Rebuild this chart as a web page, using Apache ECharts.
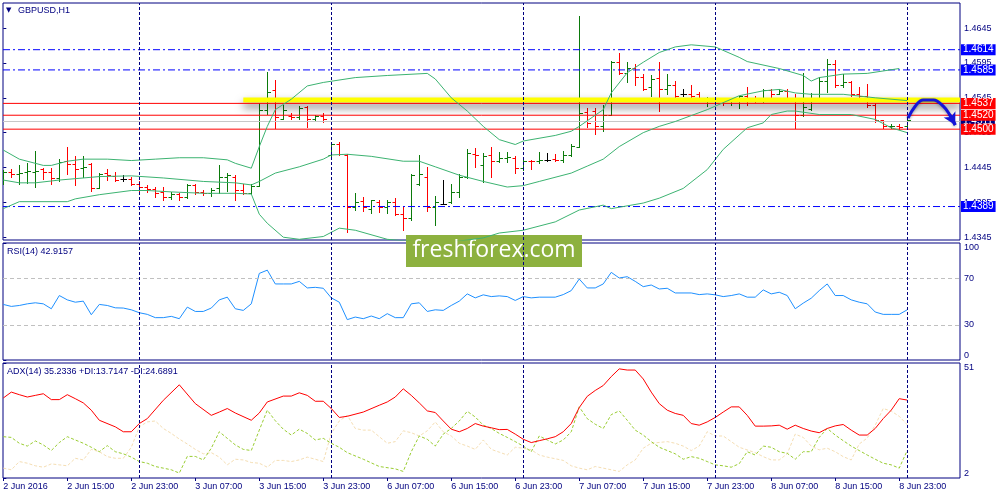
<!DOCTYPE html>
<html>
<head>
<meta charset="utf-8">
<title>GBPUSD H1</title>
<script src="https://cdn.jsdelivr.net/npm/echarts@6/dist/echarts.min.js"></script>
<style>
  html, body { margin: 0; padding: 0; background: #fff; }
  #chart { width: 1000px; height: 500px; }
</style>
</head>
<body>
<div id="chart"></div>
<script>
// ---- data (bar index 0 = 2 Jun 07:00, one bar per hour) ----
const opens = [1.4430,1.4439,1.4436,1.4438,1.4438,1.4443,1.4438,1.4430,1.4455,1.4450,1.4444,1.4450,1.4416,1.4437,1.4433,1.4429,1.4428,1.4422,1.4417,1.4414,
  1.4410,1.4403,1.4407,1.4402,1.4420,1.4410,1.4409,1.4415,1.4431,1.4432,1.4413,1.4409,1.4419,1.4528,1.4556,1.4515,1.4519,1.4518,1.4532,1.4515,
  1.4519,1.4463,1.4479,1.4463,1.4388,1.4397,1.4386,1.4396,1.4388,1.4396,1.4379,1.4373,1.4422,1.4432,1.4389,1.4393,1.4395,1.4410,1.4431,1.4465,
  1.4449,1.4463,1.4455,1.4459,1.4459,1.4444,1.4455,1.4454,1.4456,1.4457,1.4456,1.4463,1.4475,1.4524,1.4526,1.4504,1.4521,1.4597,1.4580,1.4588,
  1.4575,1.4560,1.4573,1.4557,1.4563,1.4550,1.4550,1.4551,1.4541,1.4544,1.4542,1.4540,1.4540,1.4548,1.4543,1.4543,1.4556,1.4551,1.4555,1.4545,
  1.4521,1.4529,1.4543,1.4569,1.4593,1.4564,1.4567,1.4551,1.4548,1.4534,1.4513,1.4504,1.4505,1.4505];
const highs = [1.4442,1.4443,1.4449,1.4451,1.4469,1.4445,1.4445,1.4457,1.4474,1.4461,1.4462,1.4451,1.4437,1.4443,1.4439,1.4434,1.4431,1.4425,1.4420,1.4417,
  1.4417,1.4410,1.4409,1.4422,1.4422,1.4413,1.4416,1.4448,1.4437,1.4434,1.4422,1.4422,1.4538,1.4582,1.4571,1.4534,1.4523,1.4533,1.4533,1.4521,
  1.4523,1.4480,1.4481,1.4465,1.4409,1.4402,1.4399,1.4399,1.4399,1.4401,1.4389,1.4436,1.4463,1.4446,1.4404,1.4427,1.4422,1.4436,1.4471,1.4473,
  1.4466,1.4474,1.4467,1.4467,1.4461,1.4456,1.4456,1.4467,1.4466,1.4465,1.4468,1.4479,1.4663,1.4531,1.4531,1.4535,1.4598,1.4609,1.4597,1.4593,
  1.4579,1.4577,1.4596,1.4579,1.4569,1.4557,1.4564,1.4553,1.4546,1.4545,1.4544,1.4545,1.4548,1.4560,1.4548,1.4557,1.4558,1.4558,1.4557,1.4550,
  1.4580,1.4552,1.4575,1.4600,1.4599,1.4579,1.4569,1.4561,1.4565,1.4537,1.4513,1.4508,1.4507,1.4514];
const lows = [1.4422,1.4432,1.4422,1.4423,1.4417,1.4428,1.4422,1.4425,1.4435,1.4420,1.4432,1.4412,1.4415,1.4427,1.4425,1.4425,1.4420,1.4412,1.4410,1.4403,
  1.4399,1.4400,1.4398,1.4401,1.4407,1.4406,1.4404,1.4409,1.4412,1.4399,1.4407,1.4407,1.4418,1.4522,1.4501,1.4515,1.4515,1.4515,1.4503,1.4513,
  1.4511,1.4461,1.4463,1.4353,1.4384,1.4383,1.4380,1.4381,1.4380,1.4377,1.4355,1.4369,1.4420,1.4383,1.4363,1.4392,1.4394,1.4403,1.4430,1.4446,
  1.4424,1.4432,1.4453,1.4453,1.4437,1.4442,1.4443,1.4452,1.4454,1.4455,1.4453,1.4461,1.4474,1.4503,1.4493,1.4497,1.4520,1.4579,1.4568,1.4564,
  1.4556,1.4547,1.4526,1.4551,1.4545,1.4547,1.4545,1.4541,1.4533,1.4538,1.4534,1.4535,1.4531,1.4535,1.4539,1.4539,1.4543,1.4550,1.4543,1.4502,
  1.4519,1.4527,1.4540,1.4553,1.4560,1.4560,1.4547,1.4541,1.4532,1.4511,1.4502,1.4502,1.4500,1.4504];
const closes = [1.4439,1.4436,1.4437,1.4440,1.4440,1.4439,1.4430,1.4453,1.4450,1.4443,1.4446,1.4415,1.4436,1.4434,1.4427,1.4429,1.4422,1.4417,1.4414,1.4408,
  1.4403,1.4407,1.4402,1.4420,1.4410,1.4409,1.4413,1.4431,1.4434,1.4413,1.4409,1.4419,1.4528,1.4554,1.4518,1.4528,1.4518,1.4531,1.4515,1.4519,
  1.4515,1.4479,1.4465,1.4388,1.4396,1.4389,1.4398,1.4389,1.4396,1.4379,1.4373,1.4434,1.4435,1.4388,1.4395,1.4393,1.4410,1.4432,1.4466,1.4463,
  1.4462,1.4455,1.4459,1.4460,1.4444,1.4455,1.4454,1.4456,1.4456,1.4456,1.4463,1.4476,1.4523,1.4509,1.4504,1.4521,1.4597,1.4580,1.4588,1.4575,
  1.4558,1.4572,1.4558,1.4563,1.4548,1.4550,1.4548,1.4543,1.4544,1.4542,1.4540,1.4543,1.4548,1.4543,1.4542,1.4556,1.4550,1.4555,1.4545,1.4521,
  1.4532,1.4544,1.4569,1.4594,1.4563,1.4567,1.4551,1.4548,1.4534,1.4513,1.4504,1.4505,1.4503,1.4513];

// Bollinger bands, [bar index, price] read at the visible vertices
const bbUpper = [[0,1.4470],[2,1.4457],[5,1.4448],[6,1.4448],[8,1.4454],[10,1.4457],[13,1.4457],[16,1.4455],[19,1.4457],[22,1.4459],[25,1.4459],[28,1.4456],[29,1.4451],[31,1.4444],[32,1.4475],[33,1.4504],[34,1.4528],[36,1.4543],[38,1.4562],[40,1.4567],[44,1.4574],[48,1.4577],[53,1.4580],[54,1.4572],[56,1.4545],[58,1.4526],[60,1.4504],[62,1.4485],[64,1.4478],[65,1.4483],[69,1.4491],[71,1.4497],[72,1.4504],[75,1.4528],[76,1.4552],[78,1.4581],[80,1.4596],[82,1.4610],[84,1.4618],[86,1.4621],[89,1.4618],[92,1.4603],[93,1.4597],[97,1.4587],[100,1.4577],[101,1.4569],[102,1.4574],[105,1.4579],[108,1.4580],[112,1.4587]];
const bbMiddle = [[0,1.4427],[2,1.4423],[4,1.4423],[7,1.4427],[12,1.4432],[16,1.4433],[20,1.4430],[25,1.4425],[29,1.4423],[31,1.4420],[32,1.4425],[34,1.4437],[37,1.4446],[40,1.4457],[41,1.4463],[43,1.4464],[46,1.4461],[50,1.4454],[52,1.4454],[54,1.4446],[57,1.4434],[60,1.4425],[63,1.4417],[65,1.4419],[67,1.4425],[71,1.4437],[73,1.4447],[75,1.4457],[77,1.4475],[80,1.4495],[82,1.4504],[84,1.4511],[88,1.4528],[90,1.4538],[92,1.4548],[95,1.4555],[97,1.4557],[99,1.4552],[101,1.4550],[105,1.4550],[109,1.4545],[113,1.4541]];
const bbLower = [[0,1.4386],[2,1.4396],[8,1.4396],[9,1.4400],[12,1.4406],[16,1.4412],[18,1.4412],[21,1.4410],[25,1.4408],[29,1.4408],[31,1.4407],[32,1.4378],[33,1.4365],[35,1.4345],[37,1.4342],[40,1.4346],[42,1.4358],[44,1.4355],[48,1.4342],[52,1.4338],[56,1.4338],[60,1.4344],[62,1.4351],[65,1.4355],[69,1.4367],[72,1.4384],[75,1.4391],[76,1.4386],[80,1.4394],[82,1.4401],[85,1.4415],[88,1.4442],[90,1.4471],[93,1.4502],[95,1.4509],[96,1.4521],[98,1.4526],[99,1.4526],[102,1.4521],[106,1.4521],[109,1.4514],[111,1.4502],[113,1.4495]];

const rsiValues = [[0,47.5],[1,45.8],[2,46.6],[3,48],[4,48.9],[5,48],[6,43.8],[7,55.1],[8,51.4],[9,49.4],[10,50.3],[11,38.7],[12,47.5],[13,46.6],[14,44.6],[15,44.4],[16,42.9],[17,40.4],[18,39],[19,36.2],[20,36.2],[21,37.3],[22,35.3],[23,45.2],[24,41.5],[25,41.5],[26,44.4],[27,51.4],[28,53.7],[29,43.8],[30,42.4],[31,48],[32,74],[33,76.8],[34,65],[35,65],[36,65],[37,67.2],[38,61.6],[39,62.1],[40,61.3],[41,53.1],[42,49.4],[43,34.5],[44,36.7],[45,35.3],[46,37.6],[47,35.3],[48,39.6],[49,36.2],[50,36.2],[51,48],[52,48.9],[53,41.5],[54,42.9],[55,42.4],[56,46.6],[57,50.3],[58,56.5],[59,53.1],[60,55.7],[61,54.2],[62,54.8],[63,54.2],[64,50.9],[65,54.2],[66,53.1],[67,53.7],[69,53.7],[70,55.9],[71,59.3],[72,69.2],[73,61.6],[74,61.6],[75,65],[76,74.9],[77,70.1],[78,71.2],[79,67.2],[80,62.7],[81,64.1],[82,60.7],[83,61.3],[84,57.3],[86,57.3],[87,55.9],[88,56.5],[89,55.7],[90,54.2],[91,55.1],[92,56.5],[93,53.7],[94,53.7],[95,59.9],[96,56.5],[97,57.9],[98,55.1],[99,43.8],[100,48.6],[101,52.8],[102,59.3],[103,65],[104,55.1],[105,55.1],[106,51.4],[107,49.4],[108,48],[109,41],[110,39],[111,39],[112,39],[113,42.9]];

const adxValues = [[0,36.1],[1,38.6],[2,37.5],[3,36.5],[4,37.2],[5,37.9],[6,35.4],[7,35.4],[8,37.5],[9,35.8],[10,34],[11,30.9],[12,26.6],[14,23.8],[15,21.7],[16,21.7],[17,25.2],[18,27.3],[20,35.1],[22,41.7],[24,33.7],[26,28.7],[27,30.1],[28,31.6],[29,29.7],[31,26.6],[32,29.7],[33,34.4],[35,36.9],[36,36.9],[37,38.3],[38,37.2],[39,34.7],[40,34.7],[41,31.6],[42,27.8],[43,28.3],[45,30.1],[47,33],[48,34.4],[49,36.5],[50,40],[51,37.2],[52,34],[53,30.6],[54,29.9],[55,26.3],[56,22.8],[57,21.7],[58,23.1],[59,25.2],[60,24.1],[61,23.4],[62,22.6],[63,22.7],[64,20.7],[65,18.5],[66,17.1],[67,17.9],[68,18.7],[69,19.6],[70,21.7],[71,25.2],[72,32],[73,36.8],[74,39.3],[75,41.4],[76,45.2],[77,48.5],[78,48],[79,48],[80,44.2],[81,38.6],[82,33.7],[83,30.9],[84,29.5],[85,28.7],[86,25.2],[87,24.5],[88,25.9],[89,27.8],[90,30.1],[91,32.3],[92,32.3],[93,28.7],[94,24.1],[95,24.1],[96,24.2],[97,24.5],[98,22.8],[99,24.5],[100,23.1],[101,22],[102,21.3],[103,23.1],[104,24.2],[105,24.8],[106,22.4],[107,20.3],[108,20.3],[109,23.1],[110,27.3],[111,30.9],[112,35.8],[113,35.2]];
const plusDi = [[0,19.6],[1,19.3],[2,16.8],[3,15.6],[4,17.8],[5,16.1],[6,13.7],[7,17.1],[8,19.6],[9,18.2],[10,16.8],[11,15.1],[12,13.2],[13,15.8],[14,13.2],[15,12.3],[16,10.9],[17,9],[18,8.3],[19,6.9],[20,6.2],[21,5.5],[22,4.1],[23,11.2],[24,11.2],[25,9.7],[26,14.7],[27,21.7],[28,18.9],[29,16.1],[30,14.2],[31,13.7],[32,22.4],[33,30.9],[34,26.4],[35,22.8],[36,20.3],[37,22.8],[38,21],[39,18.2],[40,18.9],[41,16.8],[42,15.1],[43,12.8],[45,10],[47,6.9],[49,5.9],[50,4.8],[51,13.2],[52,19.9],[53,18.5],[54,15.6],[55,20.7],[56,23.1],[57,26.3],[58,30.4],[59,28],[60,24.5],[61,23.1],[62,21],[63,19.3],[64,17.5],[65,15.6],[66,13.2],[67,19.9],[68,18.2],[69,16.5],[70,18.2],[71,21.7],[72,32.3],[73,27.3],[74,24.9],[75,23.1],[76,29],[77,30.6],[78,26.6],[79,22.4],[80,20.3],[81,17.5],[82,15.1],[83,13.7],[84,12.3],[85,10],[86,11.1],[87,10.4],[88,9],[89,7.6],[90,7.2],[91,6.6],[92,8.1],[93,13.2],[94,11.8],[95,15.6],[96,15.1],[97,13.2],[98,12.5],[99,10],[100,13.2],[101,13.2],[102,19.3],[103,23.1],[104,20.3],[105,17.9],[106,15.6],[107,13.7],[108,11.8],[109,10],[110,8.3],[111,7.6],[112,6.2],[113,13.7]];
const minusDi = [[0,6.2],[1,5.5],[2,9],[3,8.3],[4,7.2],[5,6.6],[6,8],[7,7.6],[8,7.2],[9,10.4],[10,9.7],[11,14.2],[12,13.2],[13,11.1],[14,10.4],[15,10.4],[16,15.1],[17,23.8],[18,25.9],[19,26.3],[20,23.1],[21,21],[22,18.6],[23,16.5],[24,14.2],[25,12.3],[26,12.8],[27,10.9],[28,7.6],[29,10],[30,9.7],[31,8.6],[32,8.3],[33,6.6],[34,9.5],[35,9.5],[36,9],[37,9.7],[38,10.9],[39,10],[40,9],[41,21],[42,26.3],[43,28.7],[44,23.1],[45,22.4],[46,22.4],[47,19.6],[48,16.8],[49,17.5],[50,22.1],[51,21.3],[52,19.9],[53,22.1],[54,25.9],[55,21.7],[56,19.9],[57,16.8],[58,15.6],[59,14.2],[60,18.2],[61,14.2],[62,13],[63,11.8],[64,15.1],[65,14.7],[66,14],[67,11.8],[68,10.9],[70,9.5],[71,7.2],[72,6.2],[73,5.5],[74,6.9],[75,6.2],[77,4.8],[78,7.6],[79,9.7],[80,14.7],[81,16.8],[83,17.5],[84,16.8],[85,15.6],[86,13.7],[87,15.6],[88,21.7],[89,19.9],[90,19.9],[91,17.5],[92,15.1],[94,12.8],[95,11.1],[96,9.7],[97,9.7],[98,12.3],[99,20.7],[100,19.3],[101,15.6],[102,14],[103,14.7],[104,13.2],[105,11.1],[106,9.7],[107,16.5],[108,19],[109,24.5],[110,31.6],[111,30.5],[112,28.3],[113,24.7]];

// levels drawn on the chart
const blueLevels = [1.4614, 1.4585, 1.4389];
const redLevels = [1.4537, 1.4520, 1.4500];
const bidPrice = 1.4511;
const zonePrice = 1.4542;
const zoneFrom = 30;
// hand drawn forecast arrow, [bar index, price]
const forecastPath = [[113.1,1.4516],[114,1.4533],[115,1.4542],[116.3,1.4542],[117.5,1.4533],[118.3,1.4521],[119,1.4506]];

const priceTicks = [1.4345, 1.4395, 1.4445, 1.4495, 1.4545, 1.4595, 1.4645];
const rsiTicks = [0, 30, 70, 100];
const rsiLevels = [70, 30];
const adxTicks = [2, 51];
const timeTicks = [0, 8, 16, 24, 32, 40, 48, 56, 64, 72, 80, 88, 96, 104, 112];
const timeLabels = ['2 Jun 2016', '2 Jun 15:00', '2 Jun 23:00', '3 Jun 07:00', '3 Jun 15:00', '3 Jun 23:00',
  '6 Jun 07:00', '6 Jun 15:00', '6 Jun 23:00', '7 Jun 07:00', '7 Jun 15:00', '7 Jun 23:00',
  '8 Jun 07:00', '8 Jun 15:00', '8 Jun 23:00'];
const daySeparators = [17, 41, 65, 89, 113];

const NAVY = '#000080';
const FONT = '"Liberation Sans", Arial, sans-serif';
const X_MIN = -0.04, X_MAX = 119.6;

const bars = opens.map((o, i) => [i, o, highs[i], lows[i], closes[i]]);

function renderBar(params, api) {
  const i = api.value(0);
  const o = api.value(1), h = api.value(2), l = api.value(3), c = api.value(4);
  const top = api.coord([i, h]), bot = api.coord([i, l]);
  const yo = Math.round(api.coord([i, o])[1]) + 0.5;
  const yc = Math.round(api.coord([i, c])[1]) + 0.5;
  const x = Math.round(top[0]) + 0.5;
  const color = c > o ? '#0b7a0b' : (c < o ? '#ff0000' : '#000000');
  const st = { stroke: color, lineWidth: 1 };
  return {
    type: 'group',
    children: [
      { type: 'line', shape: { x1: x, y1: Math.round(top[1]), x2: x, y2: Math.round(bot[1]) + 1 }, style: st },
      { type: 'line', shape: { x1: x - 3, y1: yo, x2: x, y2: yo }, style: st },
      { type: 'line', shape: { x1: x, y1: yc, x2: x + 3.5, y2: yc }, style: st }
    ]
  };
}

// a horizontal price level across the main panel with its price box on the right
function levelSeries(price, color, dash, box) {
  return {
    type: 'line', xAxisIndex: 0, yAxisIndex: 0, silent: true, showSymbol: false, clip: false,
    data: [[X_MIN, price], [X_MAX, price]],
    lineStyle: { color: color, type: dash, width: 1 },
    endLabel: {
      show: true, distance: 1, formatter: price.toFixed(4),
      backgroundColor: box, color: '#fff', padding: [1, 2, 0, 2],
      fontSize: 10, lineHeight: 10, fontFamily: FONT
    }
  };
}

const sepMark = {
  silent: true, symbol: 'none', animation: false,
  label: { show: false },
  lineStyle: { color: NAVY, type: [3, 2], width: 1 },
  data: daySeparators.map(v => ({ xAxis: v }))
};

const axisText = { color: NAVY, fontSize: 9, fontFamily: FONT };

function xAxisFor(grid, showLabels) {
  return {
    gridIndex: grid, type: 'value', min: X_MIN, max: X_MAX,
    axisLine: { show: false }, splitLine: { show: false },
    axisTick: { show: showLabels, customValues: timeTicks, length: 3, lineStyle: { color: NAVY } },
    axisLabel: Object.assign({
      show: showLabels, customValues: timeTicks, align: 'left', margin: 4,
      formatter: v => timeLabels[timeTicks.indexOf(Math.round(v))]
    }, axisText)
  };
}

const chart = echarts.init(document.getElementById('chart'));
chart.setOption({
  animation: false,
  backgroundColor: '#ffffff',
  grid: [
    { left: 3, right: 40, top: 3, height: 237, show: true, borderColor: NAVY, borderWidth: 1 },
    { left: 3, right: 40, top: 243, height: 117, show: true, borderColor: NAVY, borderWidth: 1 },
    { left: 3, right: 40, top: 363, height: 115, show: true, borderColor: NAVY, borderWidth: 1 }
  ],
  xAxis: [xAxisFor(0, false), xAxisFor(1, false), xAxisFor(2, true)],
  yAxis: [
    {
      gridIndex: 0, type: 'value', position: 'right', min: 1.4341, max: 1.4681,
      axisLine: { show: false }, splitLine: { show: false },
      axisTick: { show: true, customValues: priceTicks, length: 3, lineStyle: { color: NAVY } },
      axisLabel: Object.assign({ customValues: priceTicks, margin: 4, formatter: v => v.toFixed(4) }, axisText)
    },
    {
      gridIndex: 1, type: 'value', position: 'right', min: 0, max: 100,
      axisLine: { show: false }, splitLine: { show: false },
      axisTick: { show: true, customValues: rsiTicks, length: 3, lineStyle: { color: NAVY } },
      axisLabel: Object.assign({ customValues: rsiTicks, margin: 4,
        verticalAlignMinLabel: 'bottom', verticalAlignMaxLabel: 'top' }, axisText)
    },
    {
      gridIndex: 2, type: 'value', position: 'right', min: 2, max: 51,
      axisLine: { show: false }, splitLine: { show: false },
      axisTick: { show: true, customValues: adxTicks, length: 3, lineStyle: { color: NAVY } },
      axisLabel: Object.assign({ customValues: adxTicks, margin: 4,
        verticalAlignMinLabel: 'bottom', verticalAlignMaxLabel: 'top' }, axisText)
    }
  ],
  graphic: [
    { type: 'text', left: 6, top: 7, style: { text: '\u25BC', fill: NAVY, font: '7px "DejaVu Sans"' } },
    { type: 'text', left: 18, top: 6, style: { text: 'GBPUSD,H1', fill: NAVY, font: '9px ' + FONT } },
    { type: 'text', left: 7, top: 247, style: { text: 'RSI(14) 42.9157', fill: NAVY, font: '9px ' + FONT } },
    { type: 'text', left: 7, top: 367, style: { text: 'ADX(14) 35.2336 +DI:13.7147 -DI:24.6891', fill: NAVY, font: '9px ' + FONT } },
    {
      type: 'group', left: 406, top: 235, z: 100,
      children: [
        { type: 'rect', shape: { x: 0, y: 0, width: 176, height: 32 }, style: { fill: '#8db13f' } },
        { type: 'text', x: 88, y: 15, style: { text: 'freshforex.com', fill: '#ffffff', font: '23px "Open Sans"', textAlign: 'center', textVerticalAlign: 'middle' } }
      ]
    }
  ],
  series: [
    {
      name: 'zone', type: 'line', xAxisIndex: 0, yAxisIndex: 0, silent: true, showSymbol: false,
      data: [[zoneFrom, zonePrice], [X_MAX, zonePrice]],
      lineStyle: { color: '#ffff00', width: 5, shadowColor: 'rgba(0,0,0,0.55)', shadowBlur: 8, shadowOffsetY: 5 }
    },
    levelSeries(bidPrice, '#c8c8c8', 'solid', NAVY),
    ...blueLevels.map(p => levelSeries(p, '#0000ff', [7, 3, 2, 3], '#0000ff')),
    ...redLevels.map(p => levelSeries(p, '#ff0000', 'solid', '#ff0000')),
    {
      name: 'BB upper', type: 'line', xAxisIndex: 0, yAxisIndex: 0, data: bbUpper,
      showSymbol: false, lineStyle: { color: '#3cb371', width: 1 }, silent: true,
      markLine: sepMark
    },
    {
      name: 'BB middle', type: 'line', xAxisIndex: 0, yAxisIndex: 0, data: bbMiddle,
      showSymbol: false, lineStyle: { color: '#3cb371', width: 1 }, silent: true
    },
    {
      name: 'BB lower', type: 'line', xAxisIndex: 0, yAxisIndex: 0, data: bbLower,
      showSymbol: false, lineStyle: { color: '#3cb371', width: 1 }, silent: true
    },
    {
      name: 'GBPUSD', type: 'custom', xAxisIndex: 0, yAxisIndex: 0, data: bars,
      renderItem: renderBar, encode: { x: 0, y: [1, 2, 3, 4] }, clip: true, silent: true
    },
    {
      name: 'forecast', type: 'line', xAxisIndex: 0, yAxisIndex: 0, data: forecastPath,
      smooth: 0.4, showSymbol: false, silent: true,
      lineStyle: { color: '#1414d8', width: 3, shadowColor: 'rgba(0,0,0,0.35)', shadowBlur: 3, shadowOffsetY: 1 },
      markLine: {
        silent: true, symbol: ['none', 'arrow'], symbolSize: [10, 12], animation: false,
        label: { show: false },
        lineStyle: { color: '#1414d8', width: 3, type: 'solid' },
        data: [[{ coord: forecastPath[forecastPath.length - 2] }, { coord: forecastPath[forecastPath.length - 1] }]]
      }
    },
    {
      name: 'RSI(14)', type: 'line', xAxisIndex: 1, yAxisIndex: 1, data: rsiValues,
      showSymbol: false, silent: true, lineStyle: { color: '#1e90ff', width: 1 },
      markLine: {
        silent: true, symbol: 'none', animation: false, label: { show: false },
        data: rsiLevels.map(v => ({ yAxis: v, lineStyle: { color: '#c0c0c0', type: [4, 3], width: 1 } }))
          .concat(daySeparators.map(v => ({ xAxis: v, lineStyle: { color: NAVY, type: [3, 2], width: 1 } })))
      }
    },
    {
      name: '-DI', type: 'line', xAxisIndex: 2, yAxisIndex: 2, data: minusDi,
      showSymbol: false, silent: true, lineStyle: { color: '#f5deb3', width: 1, type: [3, 2] },
      markLine: sepMark
    },
    {
      name: '+DI', type: 'line', xAxisIndex: 2, yAxisIndex: 2, data: plusDi,
      showSymbol: false, silent: true, lineStyle: { color: '#9acd32', width: 1, type: [3, 2] }
    },
    {
      name: 'ADX(14)', type: 'line', xAxisIndex: 2, yAxisIndex: 2, data: adxValues,
      showSymbol: false, silent: true, lineStyle: { color: '#ff0000', width: 1 }
    }
  ]
});
</script>
</body>
</html>
